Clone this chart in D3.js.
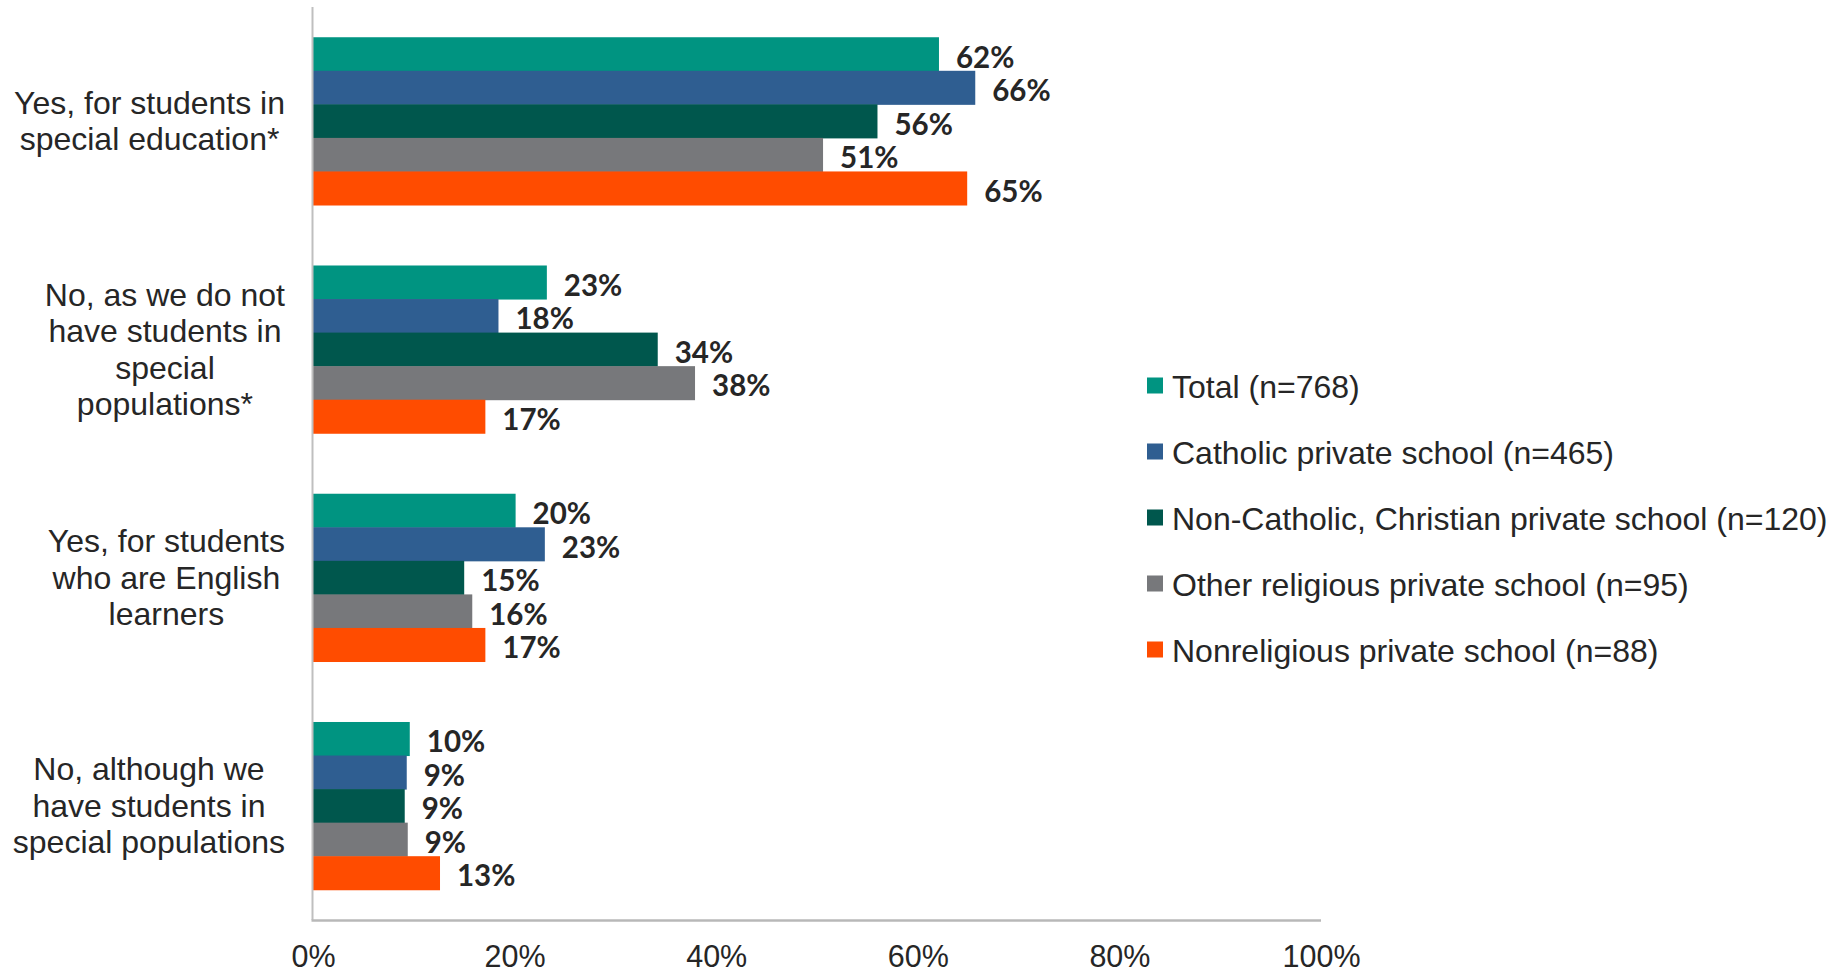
<!DOCTYPE html>
<html>
<head>
<meta charset="utf-8">
<script src="https://cdn.jsdelivr.net/npm/d3@7"></script>
<style>
  html, body { margin: 0; padding: 0; background: #ffffff; }
  svg { display: block; }
</style>
</head>
<body>
<svg id="chart" width="1841" height="974"></svg>
<script>
// ---- Data ----
const categories = [
  "Yes, for students in special education*",
  "No, as we do not have students in special populations*",
  "Yes, for students who are English learners",
  "No, although we have students in special populations"
];
const categoryLines = [
  ["Yes, for students in", "special education*"],
  ["No, as we do not", "have students in", "special", "populations*"],
  ["Yes, for students", "who are English", "learners"],
  ["No, although we", "have students in", "special populations"]
];
const seriesNames = [
  "Total (n=768)",
  "Catholic private school (n=465)",
  "Non-Catholic, Christian private school (n=120)",
  "Other religious private school (n=95)",
  "Nonreligious private school (n=88)"
];
// values per series, in category order (percent)
const totalVals        = [62.1, 23.2, 20.1, 9.6];
const catholicVals     = [65.7, 18.4, 23.0, 9.3];
const nonCatholicVals  = [56.0, 34.2, 15.0, 9.1];
const otherRelVals     = [50.6, 37.9, 15.8, 9.4];
const nonreligiousVals = [64.9, 17.1, 17.1, 12.6];
const barLabels = [
  ["62%", "23%", "20%", "10%"],
  ["66%", "18%", "23%", "9%"],
  ["56%", "34%", "15%", "9%"],
  ["51%", "38%", "16%", "9%"],
  ["65%", "17%", "17%", "13%"]
];
const tickValues = [0, 20, 40, 60, 80, 100];
const tickLabels = ["0%", "20%", "40%", "60%", "80%", "100%"];
const colors = ["#009481", "#2f5e91", "#00574d", "#77787b", "#ff4c00"];

const seriesValues = [totalVals, catholicVals, nonCatholicVals, otherRelVals, nonreligiousVals];

// ---- Layout ----
const svg = d3.select("#chart");
const plotLeft = 313, plotRight = 1321, plotTop = 7, plotBottom = 920;

const x = d3.scaleLinear().domain([0, 100]).range([plotLeft, plotRight]);
const y0 = d3.scaleBand().domain(categories).range([plotTop, plotBottom])
  .paddingInner(0.265).paddingOuter(0.1325);
const y1 = d3.scaleBand().domain(d3.range(seriesNames.length)).range([0, y0.bandwidth()]);

const textColor = "#262626";

// Bars
categories.forEach((cat, ci) => {
  const g = svg.append("g").attr("transform", `translate(0,${y0(cat)})`);
  seriesValues.forEach((vals, si) => {
    g.append("rect")
      .attr("x", x(0))
      .attr("y", y1(si))
      .attr("width", x(vals[ci]) - x(0))
      .attr("height", y1.bandwidth() + 0.5)
      .attr("fill", colors[si]);
  });
  seriesValues.forEach((vals, si) => {
    g.append("text")
      .attr("x", x(vals[ci]) + 17)
      .attr("y", y1(si) + y1.bandwidth() / 2 + 2)
      .attr("dominant-baseline", "central")
      .attr("font-family", "Lato, 'Open Sans', sans-serif")
      .attr("font-weight", "bold")
      .attr("font-size", 29.5)
      .attr("fill", textColor)
      .text(barLabels[si][ci]);
  });
});

// Axis lines
svg.append("line")
  .attr("x1", x(0) - 0.5).attr("x2", x(0) - 0.5)
  .attr("y1", plotTop).attr("y2", plotBottom)
  .attr("stroke", "#bfbfbf").attr("stroke-width", 2);
svg.append("line")
  .attr("x1", x(0) - 1.5).attr("x2", x(100))
  .attr("y1", plotBottom + 0.5).attr("y2", plotBottom + 0.5)
  .attr("stroke", "#b8b8b8").attr("stroke-width", 2.5);

// X tick labels via axis
const xAxis = d3.axisBottom(x).tickValues(tickValues)
  .tickFormat((d, i) => tickLabels[i]).tickSize(0).tickPadding(0);
const axG = svg.append("g").attr("transform", `translate(0,${plotBottom})`).call(xAxis);
axG.select(".domain").remove();
axG.selectAll("text")
  .attr("y", 47).attr("dy", null)
  .attr("font-family", "'Liberation Sans', Arial, sans-serif")
  .attr("font-size", 30.5)
  .attr("fill", textColor);

// Category labels (block centered, right edge at 285)
const labelRight = 285, lineH = 36.5;
categories.forEach((cat, ci) => {
  const lines = categoryLines[ci];
  const g = svg.append("g");
  const cy = y0(cat) + y0.bandwidth() / 2;
  const texts = lines.map((ln, li) =>
    g.append("text")
      .attr("y", cy + (li - (lines.length - 1) / 2) * lineH)
      .attr("dominant-baseline", "central")
      .attr("text-anchor", "middle")
      .attr("font-family", "'Liberation Sans', Arial, sans-serif")
      .attr("font-size", 32)
      .attr("fill", textColor)
      .text(ln));
  const maxW = d3.max(texts, t => t.node().getComputedTextLength());
  texts.forEach(t => t.attr("x", labelRight - maxW / 2));
});

// Legend
const legX = 1147, legY = 385.5, legStep = 66;
seriesNames.forEach((name, si) => {
  const g = svg.append("g").attr("transform", `translate(${legX},${legY + si * legStep})`);
  g.append("rect").attr("x", 0).attr("y", -8).attr("width", 16).attr("height", 16)
    .attr("fill", colors[si]);
  g.append("text").attr("x", 25).attr("y", 1)
    .attr("dominant-baseline", "central")
    .attr("font-family", "'Liberation Sans', Arial, sans-serif")
    .attr("font-size", 32)
    .attr("fill", textColor)
    .text(name);
});
</script>
</body>
</html>
